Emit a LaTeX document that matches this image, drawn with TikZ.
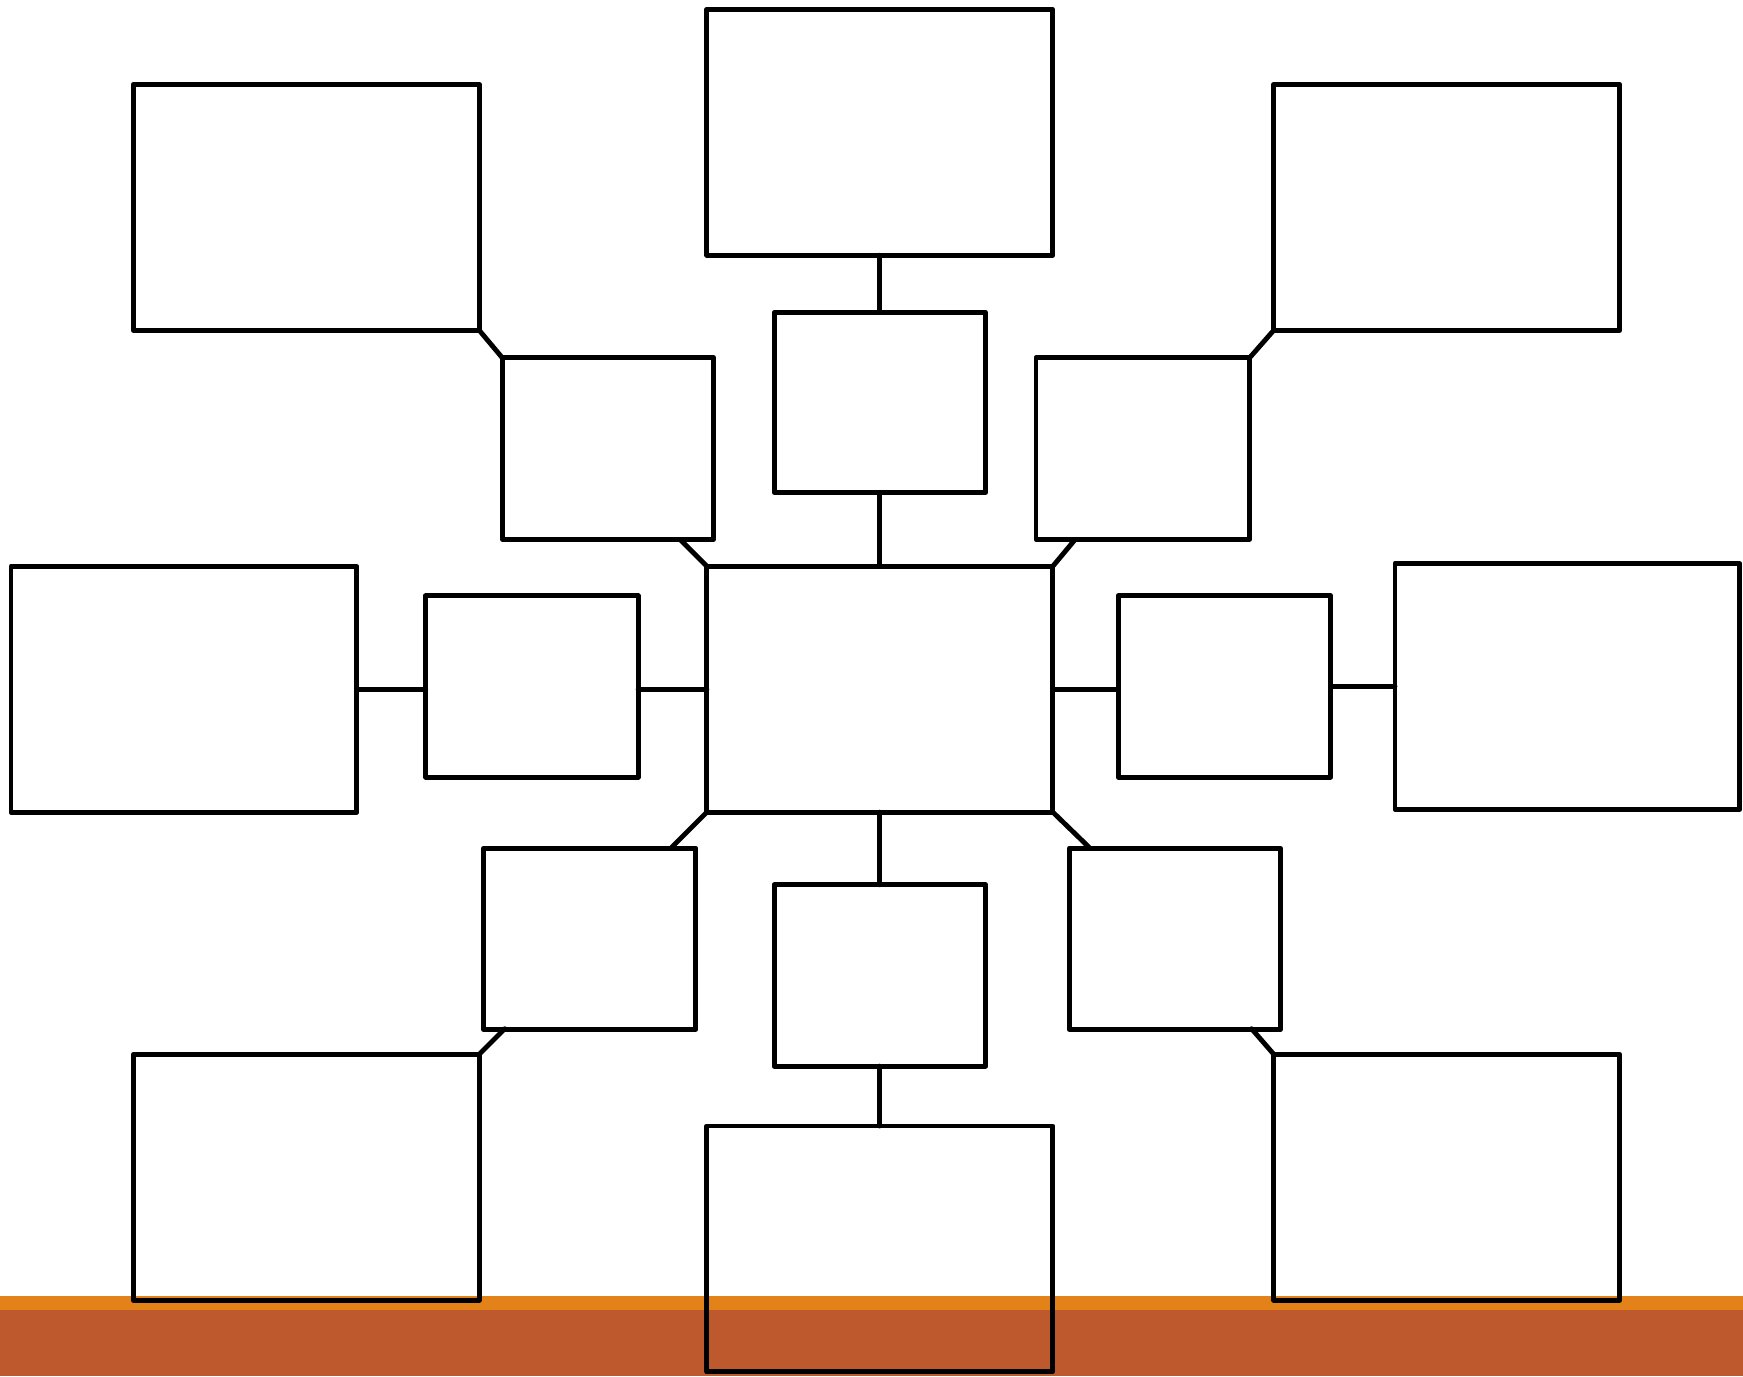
\documentclass[tikz,border=0pt]{standalone}
\definecolor{bandlight}{HTML}{E38218}
\definecolor{banddark}{HTML}{BD592D}
\begin{document}
\begin{tikzpicture}[x=0.01cm,y=-0.01cm,
  box/.style={draw=black, line width=1.25pt, rectangle, inner sep=0pt, outer sep=0pt, line join=round},
  big/.style={box, minimum width=3.11cm, minimum height=2.21cm},
  small/.style={box, minimum width=1.91cm, minimum height=1.63cm},
  link/.style={draw=black, line width=1.25pt, line cap=round}]
\useasboundingbox (0,0) rectangle (1568,1238);
\fill[bandlight] (0,1166) rectangle (1568,1178.5);
\fill[banddark] (0,1178.5) rectangle (1568,1238);
% big boxes
\node[big] (tc) at (791.5,119) {};
\node[big] (tl) at (275.5,186.5) {};
\node[big] (tr) at (1301.5,186.5) {};
\node[big] (ctr) at (791.5,620) {};
\node[big] (lb) at (165.5,620) {};
\node[big, minimum width=3.10cm] (rb) at (1410,617.5) {};
\node[big] (bl) at (275.5,1059) {};
\node[big] (bc) at (791.5,1123.5) {};
\node[big] (br) at (1301.5,1059) {};
% small boxes
\node[small, minimum width=1.90cm, minimum height=1.62cm] (mt) at (791.5,362) {};
\node[small, minimum width=1.90cm] (ul) at (547,403.5) {};
\node[small, minimum width=1.92cm] (ur) at (1028,403.5) {};
\node[small] (ls) at (478.5,617.5) {};
\node[small] (rs) at (1101.5,617.5) {};
\node[small] (ll) at (530.5,844.5) {};
\node[small, minimum width=1.90cm] (lm) at (791.5,877.5) {};
\node[small, minimum width=1.90cm] (lr) at (1057,844.5) {};
% connectors
\draw[link] (tc.south) -- (mt.north);
\draw[link] (mt.south) -- (ctr.north);
\draw[link] (ctr.south) -- (lm.north);
\draw[link] (lm.south) -- (bc.north);
\draw[link] (lb.east) -- (lb.east -| ls.west);
\draw[link] (ctr.west -| ls.east) -- (ctr.west);
\draw[link] (ctr.east) -- (ctr.east -| rs.west);
\draw[link] (rs.east) -- (rb.west);
\draw[link] (tl.south east) -- (ul.north west);
\draw[link] (tr.south west) -- (ur.north east);
\draw[link] (ctr.north west) -- ++(-24,-24);
\draw[link] (ctr.north east) -- ++(20,-24);
\draw[link] (ctr.south west) -- ++(-32,32);
\draw[link] (ctr.south east) -- ++(33,32);
\draw[link] (bl.north east) -- ++(23,-23);
\draw[link] (br.north west) -- ++(-20,-23);
\end{tikzpicture}
\end{document}
